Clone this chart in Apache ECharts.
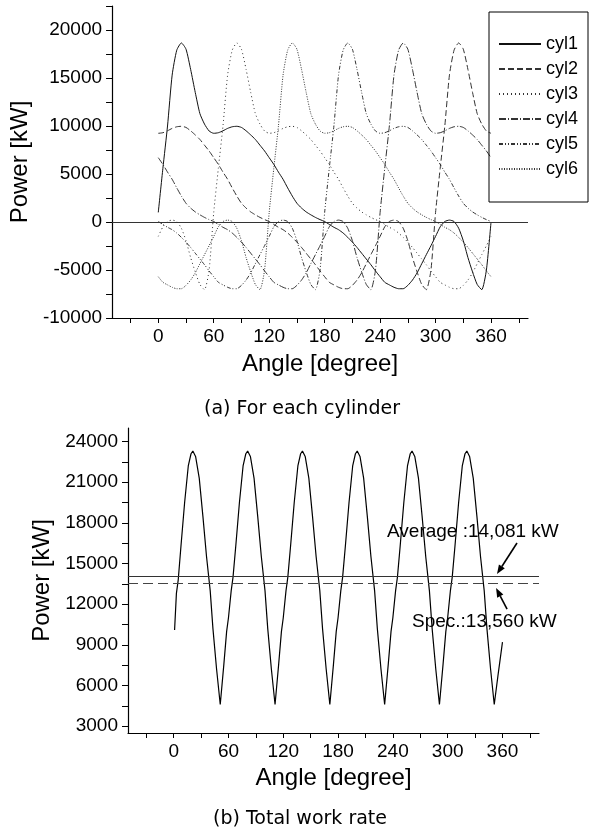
<!DOCTYPE html>
<html>
<head>
<meta charset="utf-8">
<script src="https://cdn.jsdelivr.net/npm/echarts@6/dist/echarts.min.js"></script>
<style>
  html, body { margin: 0; padding: 0; background: #fff; }
  #main { width: 597px; height: 834px; }
</style>
</head>
<body>
<div id="main"></div>
<script>
// crank angle, degree (every 5 deg)
const angles = [0,5,10,15,20,25,30,35,40,45,50,55,60,65,70,75,80,85,90,95,100,105,110,115,
  120,125,130,135,140,145,150,155,160,165,170,175,180,185,190,195,200,205,210,215,220,225,230,235,
  240,245,250,255,260,265,270,275,280,285,290,295,300,305,310,315,320,325,330,335,340,345,350,355,360];

// power per cylinder, kW
const cyl1 = [1000,5600,10000,15300,17900,18650,18000,15900,13500,11300,10200,9480,
  9240,9300,9500,9750,9920,9970,9850,9500,9070,8600,8000,7400,
  6700,6000,5200,4450,3550,2700,1950,1450,1050,750,480,250,
  50,-250,-550,-800,-1150,-1600,-2100,-2650,-3250,-3850,-4450,-5100,
  -5700,-6280,-6550,-6800,-6950,-6950,-6600,-6050,-5300,-4350,-3400,-2470,
  -1500,-500,50,200,50,-650,-1950,-3700,-5200,-6500,-7050,-5000,0];
const cyl2 = [9240,9300,9500,9750,9920,9970,9850,9500,9070,8600,8000,7400,
  6700,6000,5200,4450,3550,2700,1950,1450,1050,750,480,250,
  50,-250,-550,-800,-1150,-1600,-2100,-2650,-3250,-3850,-4450,-5100,
  -5700,-6280,-6550,-6800,-6950,-6950,-6600,-6050,-5300,-4350,-3400,-2470,
  -1500,-500,50,200,50,-650,-1950,-3700,-5200,-6500,-7050,-5000,
  1000,5600,10000,15300,17900,18650,18000,15900,13500,11300,10200,9480,9240];
const cyl3 = [-1500,-500,50,200,50,-650,-1950,-3700,-5200,-6500,-7050,-5000,
  1000,5600,10000,15300,17900,18650,18000,15900,13500,11300,10200,9480,
  9240,9300,9500,9750,9920,9970,9850,9500,9070,8600,8000,7400,
  6700,6000,5200,4450,3550,2700,1950,1450,1050,750,480,250,
  50,-250,-550,-800,-1150,-1600,-2100,-2650,-3250,-3850,-4450,-5100,
  -5700,-6280,-6550,-6800,-6950,-6950,-6600,-6050,-5300,-4350,-3400,-2470,-1500];
const cyl4 = [6700,6000,5200,4450,3550,2700,1950,1450,1050,750,480,250,
  50,-250,-550,-800,-1150,-1600,-2100,-2650,-3250,-3850,-4450,-5100,
  -5700,-6280,-6550,-6800,-6950,-6950,-6600,-6050,-5300,-4350,-3400,-2470,
  -1500,-500,50,200,50,-650,-1950,-3700,-5200,-6500,-7050,-5000,
  1000,5600,10000,15300,17900,18650,18000,15900,13500,11300,10200,9480,
  9240,9300,9500,9750,9920,9970,9850,9500,9070,8600,8000,7400,6700];
const cyl5 = [50,-250,-550,-800,-1150,-1600,-2100,-2650,-3250,-3850,-4450,-5100,
  -5700,-6280,-6550,-6800,-6950,-6950,-6600,-6050,-5300,-4350,-3400,-2470,
  -1500,-500,50,200,50,-650,-1950,-3700,-5200,-6500,-7050,-5000,
  1000,5600,10000,15300,17900,18650,18000,15900,13500,11300,10200,9480,
  9240,9300,9500,9750,9920,9970,9850,9500,9070,8600,8000,7400,
  6700,6000,5200,4450,3550,2700,1950,1450,1050,750,480,250,50];
const cyl6 = [-5700,-6280,-6550,-6800,-6950,-6950,-6600,-6050,-5300,-4350,-3400,-2470,
  -1500,-500,50,200,50,-650,-1950,-3700,-5200,-6500,-7050,-5000,
  1000,5600,10000,15300,17900,18650,18000,15900,13500,11300,10200,9480,
  9240,9300,9500,9750,9920,9970,9850,9500,9070,8600,8000,7400,
  6700,6000,5200,4450,3550,2700,1950,1450,1050,750,480,250,
  50,-250,-550,-800,-1150,-1600,-2100,-2650,-3250,-3850,-4450,-5100,-5700];

// total work rate
const totalAngle = [
  1,3,5,8,12,16,19,21,24,28,32,36,40,43,47,51,55,58,
  60,63,65,68,72,76,79,81,84,88,92,96,100,103,107,111,115,118,
  120,123,125,128,132,136,139,141,144,148,152,156,160,163,167,171,175,178,
  180,183,185,188,192,196,199,201,204,208,212,216,220,223,227,231,235,238,
  240,243,245,248,252,256,259,261,264,268,272,276,280,283,287,291,295,298,
  300,303,305,308,312,316,319,321,324,328,332,336,340,343,347,351,355,360];
const totalPower = [
  10100,12800,13800,16300,19500,22200,23100,23300,22900,21300,18500,15500,13000,10200,7200,4600,7600,10000,
  11000,13000,14000,16300,19500,22200,23100,23300,22900,21300,18500,15500,13000,10200,7200,4600,7600,10000,
  11000,13000,14000,16300,19500,22200,23100,23300,22900,21300,18500,15500,13000,10200,7200,4600,7600,10000,
  11000,13000,14000,16300,19500,22200,23100,23300,22900,21300,18500,15500,13000,10200,7200,4600,7600,10000,
  11000,13000,14000,16300,19500,22200,23100,23300,22900,21300,18500,15500,13000,10200,7200,4600,7600,10000,
  11000,13000,14000,16300,19500,22200,23100,23300,22900,21300,18500,15500,13000,10200,7200,4600,6700,9200];
const avgPower = 14081;
const specPower = 13560;

// ticks
const angleLabels = [0, 60, 120, 180, 240, 300, 360];
const angleTicks = [-30, 0, 30, 60, 90, 120, 150, 180, 210, 240, 270, 300, 330, 360, 390];
const powerLabelsA = [-10000, -5000, 0, 5000, 10000, 15000, 20000];
const powerTicksA = [-10000, -7500, -5000, -2500, 0, 2500, 5000, 7500, 10000, 12500, 15000, 17500, 20000, 22500];
const powerLabelsB = [3000, 6000, 9000, 12000, 15000, 18000, 21000, 24000];
const powerTicksB = [3000, 4500, 6000, 7500, 9000, 10500, 12000, 13500, 15000, 16500, 18000, 19500, 21000, 22500, 24000];

const cylNames = ['cyl1', 'cyl2', 'cyl3', 'cyl4', 'cyl5', 'cyl6'];
const cylData = [cyl1, cyl2, cyl3, cyl4, cyl5, cyl6];
const cylDash = ['solid', [6, 3], [1, 3], [7, 2, 1, 2], [4, 2, 1, 2, 1, 2], [1, 1.5]];
const cylColor = ['#111', '#333', '#333', '#333', '#333', '#333'];

const FONT = "'Liberation Sans', Arial, sans-serif";
const CAPFONT = "'DejaVu Sans', sans-serif";

let chart = echarts.init(document.getElementById('main'));

function xAxisFor(grid) {
  return {
    gridIndex: grid,
    type: 'value',
    min: -50,
    max: 400,
    name: 'Angle [degree]',
    nameLocation: 'middle',
    nameGap: grid === 0 ? 34 : 33,
    nameTextStyle: {fontSize: 24, fontFamily: FONT, color: '#000'},
    axisLine: {onZero: false, lineStyle: {color: '#000', width: 1.2}},
    axisTick: {customValues: angleTicks, length: 5, lineStyle: {color: '#000'}},
    axisLabel: {customValues: angleLabels, fontSize: 19, fontFamily: FONT, color: '#000', margin: 9,
                formatter: v => String(v)},
    splitLine: {show: false}
  };
}

function yAxisFor(grid, min, max, labels, ticks, gap) {
  return {
    gridIndex: grid,
    type: 'value',
    min: min,
    max: max,
    name: 'Power [kW]',
    nameLocation: 'middle',
    nameGap: gap,
    nameTextStyle: {fontSize: 24, fontFamily: FONT, color: '#000'},
    axisLine: {show: true, onZero: false, lineStyle: {color: '#000', width: 1.2}},
    axisTick: {show: true, customValues: ticks, length: 6, lineStyle: {color: '#000'}},
    axisLabel: {customValues: labels, fontSize: 19, fontFamily: FONT, color: '#000', margin: 10,
                formatter: v => String(v)},
    splitLine: {show: false}
  };
}

let series = cylNames.map((name, i) => {
  let s = {
    name: name,
    type: 'line',
    xAxisIndex: 0,
    yAxisIndex: 0,
    data: angles.map((a, j) => [a, cylData[i][j]]),
    symbol: 'none',
    smooth: 0.2,
    lineStyle: {color: cylColor[i], width: 1, type: cylDash[i]},
    itemStyle: {color: cylColor[i]}
  };
  if (i === 0) {
    s.markLine = {
      silent: true,
      symbol: 'none',
      label: {show: false},
      lineStyle: {color: '#333', width: 1, type: 'solid'},
      data: [{yAxis: 0}]
    };
  }
  return s;
});

series.push({
  name: 'total',
  type: 'line',
  xAxisIndex: 1,
  yAxisIndex: 1,
  data: totalAngle.map((a, j) => [a, totalPower[j]]),
  symbol: 'none',
  lineStyle: {color: '#000', width: 1.2},
  markLine: {
    silent: true,
    symbol: 'none',
    label: {show: false},
    data: [
      {yAxis: avgPower, lineStyle: {color: '#333', width: 1, type: 'solid'}},
      {yAxis: specPower, lineStyle: {color: '#444', width: 1.2, type: [10, 5]}}
    ]
  }
});

let option = {
  animation: false,
  backgroundColor: '#fff',
  grid: [
    {left: 107, top: 6, width: 421, height: 312},
    {left: 128, top: 428, width: 411, height: 305}
  ],
  xAxis: [xAxisFor(0), xAxisFor(1)],
  yAxis: [
    yAxisFor(0, -10000, 22500, powerLabelsA, powerTicksA, 67),
    yAxisFor(1, 2500, 25000, powerLabelsB, powerTicksB, 65)
  ],
  legend: {
    data: cylNames,
    orient: 'vertical',
    left: 489,
    top: 12,
    padding: [22, 10, 23, 9],
    itemWidth: 42,
    itemHeight: 14,
    itemGap: 5,
    itemTextGap: 8,
    borderColor: '#000',
    borderWidth: 1,
    borderRadius: 0,
    itemStyle: {opacity: 0},
    textStyle: {fontSize: 18, fontFamily: FONT, color: '#000', lineHeight: 20}
  },
  series: series
};

chart.setOption(option);

function arrow(tail, tip) {
  let dx = tip[0] - tail[0], dy = tip[1] - tail[1];
  let len = Math.sqrt(dx * dx + dy * dy);
  let ux = dx / len, uy = dy / len;
  let bx = tip[0] - ux * 9, by = tip[1] - uy * 9;
  return [
    {type: 'line', shape: {x1: tail[0], y1: tail[1], x2: bx, y2: by}, style: {stroke: '#000', lineWidth: 1.6}},
    {type: 'polygon', shape: {points: [tip, [bx - uy * 3.5, by + ux * 3.5], [bx + uy * 3.5, by - ux * 3.5]]}, style: {fill: '#000'}}
  ];
}

function label(text, x, y, font, align) {
  return {
    type: 'text', x: x, y: y,
    style: {text: text, font: font, fill: '#000', align: align, verticalAlign: 'middle',
            textAlign: align, textVerticalAlign: 'middle'}
  };
}

// annotation arrows anchored on the reference lines
let avgTip = chart.convertToPixel({xAxisIndex: 1, yAxisIndex: 1}, [354, avgPower]);
avgTip = [avgTip[0], avgTip[1] - 2];
let specTip = chart.convertToPixel({xAxisIndex: 1, yAxisIndex: 1}, [353, specPower]);
specTip = [specTip[0], specTip[1] + 5];

let graphics = [
  label('(a) For each cylinder', 302, 409, "19px " + CAPFONT, 'center'),
  label('(b) Total work rate', 300, 819, "19px " + CAPFONT, 'center'),
  label('Average :14,081 kW', 387, 532, "19px " + FONT, 'left'),
  label('Spec.:13,560 kW', 412, 622, "19px " + FONT, 'left')
];
graphics = graphics.concat(arrow([avgTip[0] + 20, avgTip[1] - 31], avgTip));
graphics = graphics.concat(arrow([specTip[0] + 11, specTip[1] + 21], specTip));

chart.setOption({graphic: graphics});
</script>
</body>
</html>
